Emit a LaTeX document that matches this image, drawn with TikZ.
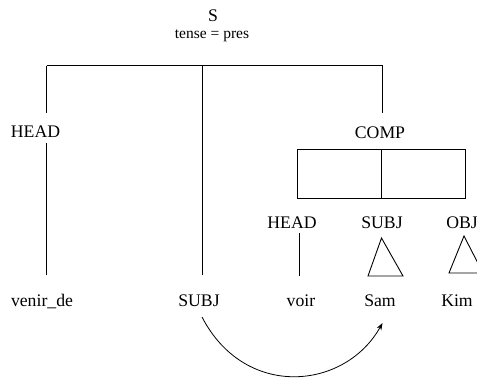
\documentclass[tikz,border=0pt]{standalone}
\usepackage{fontspec}
\setmainfont{Liberation Serif}
\usetikzlibrary{arrows.meta}
\tikzset{
    lab/.style = {inner sep = 0pt, anchor = base, font = \fontsize{17.7}{20}\selectfont},
    feat/.style = {inner sep = 0pt, anchor = base, font = \fontsize{15.5}{18}\selectfont},
    tree/.style = {line width = 0.9pt},
}
\begin{document}
\begin{tikzpicture}[x = 1pt, y = -1pt]
    \useasboundingbox (0,0) rectangle (477,378);
    % labels
    \node[lab] (s) at (213,21) {S};
    \node[feat] (tense) at (212,38.5) {tense = pres};
    \node[lab] (head) at (35.5,137) {HEAD};
    \node[lab] (comp) at (380,138) {COMP};
    \node[lab] (head2) at (292,228) {HEAD};
    \node[lab] (subj2) at (382,228) {SUBJ};
    \node[lab] (obj) at (462,228) {OBJ};
    \node[lab] (venir) at (42,306) {venir\_de};
    \node[lab] (subj) at (199,306) {SUBJ};
    \node[lab] (voir) at (301,306) {voir};
    \node[lab] (sam) at (380,306) {Sam};
    \node[lab] (kim) at (457,306) {Kim};
    % tree
    \coordinate (barL) at (46.5,65.5);
    \coordinate (barM) at (202.5,65.5);
    \coordinate (barR) at (382.5,65.5);
    \coordinate (headTop) at (46.5,113);
    \coordinate (compTop) at (382.5,113);
    \coordinate (headLow) at (46.5,143);
    \coordinate (venirTop) at (46.5,275);
    \coordinate (subjTop) at (202.5,275);
    \draw[tree] (barL) -- (barR);
    \draw[tree] (barL) -- (headTop);
    \draw[tree] (barR) -- (compTop);
    \draw[tree] (barM) -- (subjTop);
    \draw[tree] (headLow) -- (venirTop);
    % comp box
    \draw[tree] (297,149) rectangle (465,198);
    \draw[tree] (381,149) -- (381,198);
    % lower tree
    \coordinate (head2Low) at (299,233);
    \coordinate (voirTop) at (299,276);
    \draw[tree] (head2Low) -- (voirTop);
    \draw[tree] (381.5,238) -- (403,276) -- (368,276) -- cycle;
    \draw[tree] (464,236) -- (483,273) -- (449,273) -- cycle;
    % arrow
    \coordinate (from) at (202,317);
    \coordinate (to) at (382.5,323);
    \draw[line width = 0.8pt, -{Stealth[length = 7pt, width = 5pt, inset = 2pt]}] (from) .. controls (245,400) and (345,390) .. (to);
\end{tikzpicture}
\end{document}
